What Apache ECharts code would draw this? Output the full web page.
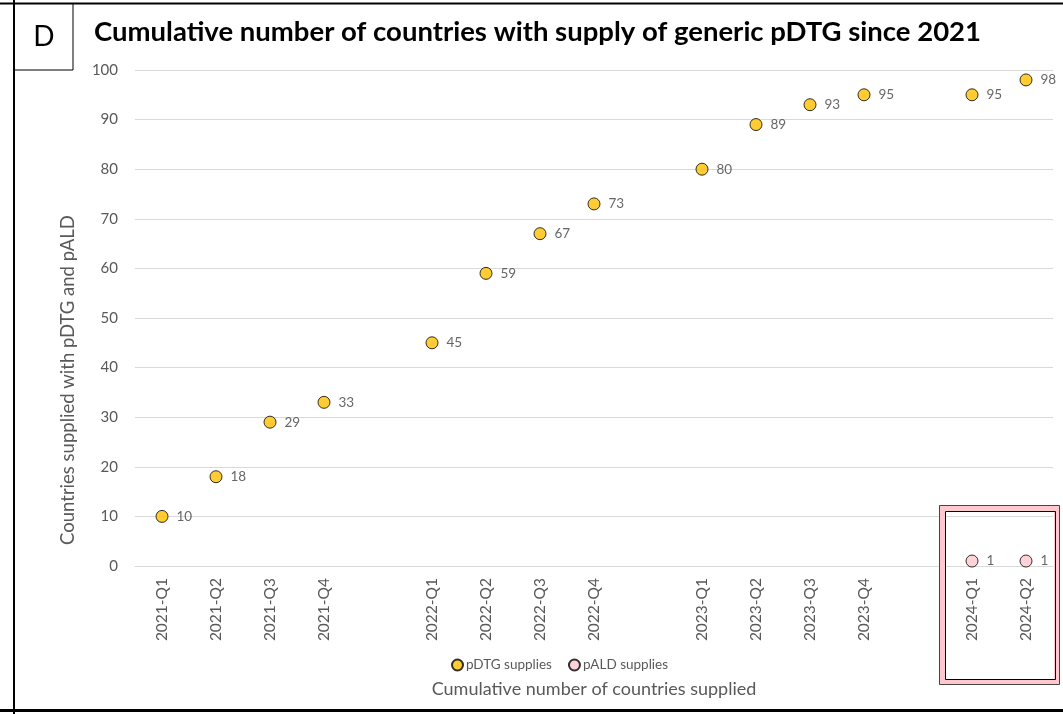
<!DOCTYPE html>
<html><head><meta charset="utf-8">
<script src="https://cdn.jsdelivr.net/npm/echarts@6/dist/echarts.min.js"></script>
<style>html,body{margin:0;padding:0;background:#fff}#c{width:1063px;height:714px}</style>
</head><body><div id="c"></div>
<script>
const categories = ['2021-Q1','2021-Q2','2021-Q3','2021-Q4',' ','2022-Q1','2022-Q2','2022-Q3','2022-Q4','  ','2023-Q1','2023-Q2','2023-Q3','2023-Q4','   ','2024-Q1','2024-Q2'];
const pDTG = [10,18,29,33,'-',45,59,67,73,'-',80,89,93,95,'-',95,98];
const pALD = ['-','-','-','-','-','-','-','-','-','-','-','-','-','-','-',1,1];
const yTicks = [0,100,10];
const seriesNames = ['pDTG supplies','pALD supplies'];
const titleText = 'Cumulative number of countries with supply of generic pDTG since 2021';
const yTitle = 'Countries supplied with pDTG and pALD';
const xTitle = 'Cumulative number of countries supplied';

const FONT = 'Lato';
const chart = echarts.init(document.getElementById('c'), null, {renderer:'canvas'});
const labelCfg = {show:true, position:'right', distance:8, color:'#404040', fontSize:13.5, fontFamily:FONT};
chart.setOption({
  animation:false,
  textStyle:{fontFamily:FONT},
  title:{text:titleText, left:89, top:13, textStyle:{fontFamily:FONT, fontWeight:'bold', fontSize:27.5, color:'#000'}},
  grid:{left:135, right:10, top:70, bottom:148},
  legend:{left:446, top:653, itemWidth:11, itemHeight:11, itemGap:16, icon:'circle',
    textStyle:{fontFamily:FONT, fontSize:13.5, color:'#595959', padding:[0,0,0,-2]}, data:seriesNames},
  xAxis:{type:'category', data:categories, boundaryGap:true,
    axisLine:{show:true, lineStyle:{color:'#d9d9d9', width:1}}, axisTick:{show:false},
    axisLabel:{rotate:90, margin:12, color:'#595959', fontSize:15.5, fontFamily:FONT, interval:0},
    name:xTitle, nameLocation:'middle', nameGap:114,
    nameTextStyle:{fontFamily:FONT, fontSize:18, color:'#595959'}},
  yAxis:{type:'value', min:yTicks[0], max:yTicks[1], interval:yTicks[2],
    axisLine:{show:false}, axisTick:{show:false},
    axisLabel:{margin:17, color:'#595959', fontSize:15, fontFamily:FONT},
    splitLine:{lineStyle:{color:'#d9d9d9', width:1}}},
  series:[
    {name:seriesNames[0], type:'scatter', data:pDTG, symbol:'circle', symbolSize:12,
      itemStyle:{color:'#FFC000', borderColor:'#000', borderWidth:1}, label:labelCfg, z:5},
    {name:seriesNames[1], type:'scatter', data:pALD, symbol:'circle', symbolSize:12,
      itemStyle:{color:'#FFC7CE', borderColor:'#000', borderWidth:1}, label:labelCfg, z:5}
  ],
  graphic:[
    {type:'line', shape:{x1:0,y1:3.5,x2:1063,y2:3.5}, style:{stroke:'#000', lineWidth:2}, z:10},
    {type:'line', shape:{x1:14,y1:0,x2:14,y2:714}, style:{stroke:'#000', lineWidth:2}, z:10},
    {type:'line', shape:{x1:0,y1:710.5,x2:1063,y2:710.5}, style:{stroke:'#000', lineWidth:3}, z:10},
    {type:'rect', shape:{x:14,y:3.5,width:59,height:66.5}, style:{fill:'none', stroke:'#000', lineWidth:1}, z:10},
    {type:'text', x:44, y:37, style:{text:'D', fontFamily:FONT, fontSize:28, fill:'#000', align:'center', verticalAlign:'middle'}, z:10},
    {type:'text', x:68, y:380, rotation:Math.PI/2, style:{text:yTitle, fontFamily:FONT, fontSize:18.5, fill:'#595959', align:'center', verticalAlign:'middle'}, z:10},
    {type:'rect', shape:{x:942,y:508,width:115,height:174}, style:{fill:'none', stroke:'#FFC7CE', lineWidth:6}, z:10},
    {type:'rect', shape:{x:939.5,y:505.5,width:120,height:179}, style:{fill:'none', stroke:'#444', lineWidth:1}, z:11},
    {type:'rect', shape:{x:945.5,y:511.5,width:110,height:168}, style:{fill:'none', stroke:'#000', lineWidth:1}, z:11}
  ]
});
</script></body></html>
